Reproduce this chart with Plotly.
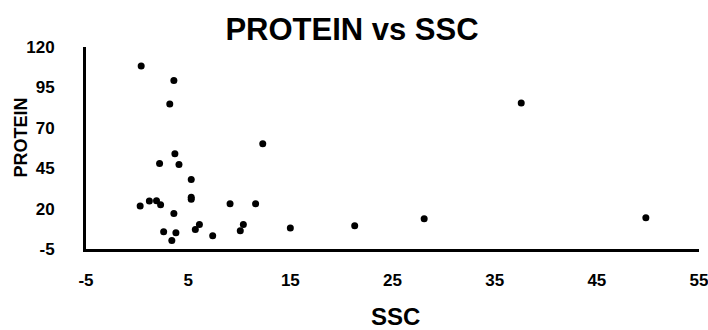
import plotly.graph_objects as go

# Suspended-sediment concentration vs protein content
ssc = [0.4, 3.6, 3.2, 12.3, 3.7, 2.2, 4.1, 37.6, 5.3, 5.3, 5.3, 0.3, 1.2, 1.9,
       2.3, 9.1, 11.6, 3.6, 6.1, 5.7, 10.4, 10.1, 2.6, 3.8, 3.4, 7.4, 15.0,
       21.3, 28.1, 49.8]
protein = [108.3, 99.2, 84.8, 60.1, 53.9, 47.9, 47.3, 85.4, 38.0, 27.0, 25.8,
           21.6, 24.7, 24.9, 22.4, 23.0, 23.0, 17.0, 10.2, 7.1, 10.2, 6.3, 5.7,
           5.1, 0.3, 3.2, 8.0, 9.4, 13.7, 14.3]

x_ticks = [-5, 5, 15, 25, 35, 45, 55]
y_ticks = [-5, 20, 45, 70, 95, 120]
x_range = [-5.001, 55.001]
y_range = [-5.001, 120.001]

FONT = "Liberation Sans, Arial, sans-serif"
W, H = 708, 330
M = dict(l=86, r=9, t=47, b=81)
plot_w = W - M["l"] - M["r"]
plot_h = H - M["t"] - M["b"]
TICK_PX = 9          # length of the outward tick marks
TICK_OFFSET_PX = 5.5  # centre of a tick mark, measured out from the plot edge

fig = go.Figure()
fig.add_trace(go.Scatter(
    x=ssc, y=protein, mode="markers",
    marker=dict(color="black", size=7),
    hoverinfo="x+y",
))

# Outward tick marks, drawn as short line glyphs just outside the axes
x_units_per_px = (x_range[1] - x_range[0]) / plot_w
y_units_per_px = (y_range[1] - y_range[0]) / plot_h
fig.add_trace(go.Scatter(
    x=x_ticks, y=[y_range[0] - TICK_OFFSET_PX * y_units_per_px] * len(x_ticks),
    mode="markers", cliponaxis=False, hoverinfo="skip",
    marker=dict(symbol="line-ns", size=TICK_PX,
                line=dict(color="black", width=3)),
))
fig.add_trace(go.Scatter(
    x=[x_range[0] - TICK_OFFSET_PX * x_units_per_px] * len(y_ticks), y=y_ticks,
    mode="markers", cliponaxis=False, hoverinfo="skip",
    marker=dict(symbol="line-ew", size=TICK_PX,
                line=dict(color="black", width=3)),
))

# Axes: heavy black lines and bold tick labels, spaced out from the
# line by long transparent ticks
label_axis = dict(
    showgrid=False, zeroline=False, showline=True,
    linecolor="black", linewidth=3,
    ticks="outside", tickcolor="rgba(0,0,0,0)",
    tickmode="array", automargin=False, ticklabeloverflow="allow",
    tickfont=dict(family=FONT, size=17, color="black"),
)

fig.update_layout(
    width=W, height=H,
    margin=M,
    paper_bgcolor="white", plot_bgcolor="white",
    showlegend=False,
    title=dict(
        text="<b>PROTEIN vs SSC</b>",
        x=352 / W, xanchor="center",
        y=1 - 29 / H, yanchor="middle",
        font=dict(family=FONT, size=31, color="black"),
    ),
    xaxis=dict(
        range=x_range, tickvals=x_ticks,
        ticktext=[f"<b>{v}</b>" for v in x_ticks],
        ticklen=14, **label_axis,
    ),
    yaxis=dict(
        range=y_range, tickvals=y_ticks,
        ticktext=[f"<b>{v}</b>" for v in y_ticks],
        ticklen=25, **label_axis,
    ),
    annotations=[
        dict(text="<b>SSC</b>", xref="paper", yref="paper",
             x=(395 - M["l"]) / plot_w, y=-(316 - 249) / plot_h,
             xanchor="center", yanchor="middle", showarrow=False,
             font=dict(family=FONT, size=24, color="black")),
        dict(text="<b>PROTEIN</b>", xref="paper", yref="paper",
             x=-(M["l"] - 20) / plot_w, y=(249 - 137.5) / plot_h,
             textangle=-90,
             xanchor="center", yanchor="middle", showarrow=False,
             font=dict(family=FONT, size=18, color="black")),
    ],
)

fig.write_html("out.html")
